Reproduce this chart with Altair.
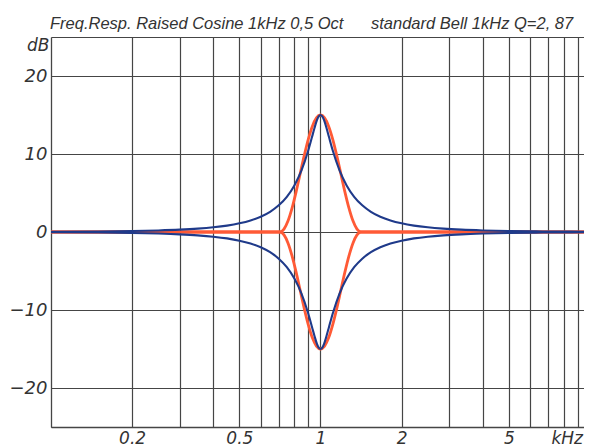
import altair as alt
import pandas as pd

# ---- data (frequency in kHz, gain in dB) ----
bell_freq = [0.1, 0.15, 0.2, 0.25, 0.3, 0.35, 0.4, 0.45, 0.5, 0.55, 0.6, 0.65, 0.7, 0.75,
             0.8, 0.85, 0.9, 0.93, 0.95, 0.97, 0.985, 1.0, 1.0152, 1.0309, 1.0526, 1.0753,
             1.1111, 1.1765, 1.25, 1.3333, 1.4286, 1.5385, 1.6667, 1.8182, 2.0, 2.2222,
             2.5, 2.8571, 3.3333, 4.0, 5.0, 6.6667, 10.0]
bell_boost = [0.03, 0.07, 0.12, 0.20, 0.30, 0.43, 0.60, 0.82, 1.11, 1.48, 1.96, 2.59, 3.42,
              4.51, 5.97, 7.89, 10.41, 12.17, 13.34, 14.34, 14.83, 15.0, 14.83, 14.34, 13.34,
              12.17, 10.41, 7.89, 5.97, 4.51, 3.42, 2.59, 1.96, 1.48, 1.11, 0.82, 0.60, 0.43,
              0.30, 0.20, 0.12, 0.07, 0.03]
bell_cut = [-0.03, -0.07, -0.12, -0.20, -0.30, -0.43, -0.60, -0.82, -1.11, -1.48, -1.96,
            -2.59, -3.42, -4.51, -5.97, -7.89, -10.41, -12.17, -13.34, -14.34, -14.83, -15.0,
            -14.83, -14.34, -13.34, -12.17, -10.41, -7.89, -5.97, -4.51, -3.42, -2.59, -1.96,
            -1.48, -1.11, -0.82, -0.60, -0.43, -0.30, -0.20, -0.12, -0.07, -0.03]

cos_freq = [0.1, 0.7071, 0.7320, 0.7579, 0.7846, 0.8123, 0.8409, 0.8706, 0.9013, 0.9330,
            0.9659, 1.0, 1.0353, 1.0718, 1.1096, 1.1487, 1.1892, 1.2311, 1.2746, 1.3195,
            1.3660, 1.4142, 10.0]
cos_boost = [0, 0, 0.37, 1.43, 3.09, 5.18, 7.5, 9.82, 11.91, 13.57, 14.63, 15.0, 14.63,
             13.57, 11.91, 9.82, 7.5, 5.18, 3.09, 1.43, 0.37, 0, 0]
cos_cut = [0, 0, -0.37, -1.43, -3.09, -5.18, -7.5, -9.82, -11.91, -13.57, -14.63, -15.0,
           -14.63, -13.57, -11.91, -9.82, -7.5, -5.18, -3.09, -1.43, -0.37, 0, 0]

grid_freqs = [0.2, 0.3, 0.4, 0.5, 0.6, 0.7, 0.8, 0.9, 1, 2, 3, 4, 5, 6, 7, 8, 9, 8.2]
y_ticks = [-25, -20, -10, 0, 10, 20, 25]

title_left = "Freq.Resp. Raised Cosine 1kHz 0,5 Oct"
title_right = "standard Bell 1kHz Q=2, 87"

rows = []
for f, b, c in zip(bell_freq, bell_boost, bell_cut):
    rows.append({"f": f, "db": b, "curve": "bell_boost", "kind": "bell"})
    rows.append({"f": f, "db": c, "curve": "bell_cut", "kind": "bell"})
for f, b, c in zip(cos_freq, cos_boost, cos_cut):
    rows.append({"f": f, "db": b, "curve": "cos_boost", "kind": "cos"})
    rows.append({"f": f, "db": c, "curve": "cos_cut", "kind": "cos"})
df = pd.DataFrame(rows)

FONT_LBL = "DejaVu Sans"
TXT = "#333333"
GRID = "#454545"

x_enc = alt.X(
    "f:Q",
    scale=alt.Scale(type="log", domain=[0.1, 10], nice=False),
    axis=alt.Axis(
        values=grid_freqs, format="~g",
        labelExpr="indexof([0.2,0.5,1,2,5], datum.value) >= 0 ? datum.label : "
                  "((datum.value > 8.1 && datum.value < 8.3) ? 'kHz' : '')",
        grid=True, gridColor=GRID, gridWidth=1.2,
        gridOpacity={"condition": {"test": "datum.value > 8.1 && datum.value < 8.3", "value": 0}, "value": 1},
        ticks=False, domain=True, domainColor=GRID, domainWidth=1.3,
        labelFont=FONT_LBL, labelFontStyle="italic", labelFontSize=17, labelColor=TXT,
        labelPadding=3, labelOverlap=False, labelFlush=False, labelBound=False,
        title=None,
    ),
)
y_enc = alt.Y(
    "db:Q",
    scale=alt.Scale(domain=[-25, 25], nice=False),
    axis=alt.Axis(
        values=y_ticks,
        labelExpr="abs(datum.value) == 25 ? '' : datum.label",
        grid=True, gridColor=GRID, gridWidth=1.2,
        ticks=False, domain=True, domainColor=GRID, domainWidth=1.3,
        labelFont=FONT_LBL, labelFontStyle="italic", labelFontSize=18, labelColor=TXT,
        labelPadding=4, labelOverlap=False,
        title="dB", titleAngle=0, titleX=-2, titleY=0, titleAlign="right",
        titleBaseline="top", titleFont=FONT_LBL, titleFontStyle="italic",
        titleFontWeight="normal", titleFontSize=17, titleColor=TXT,
    ),
)

base = alt.Chart(df)
orange = base.transform_filter("datum.kind == 'cos'").mark_line(
    color="#ff5a36", strokeWidth=2.8, interpolate="monotone"
).encode(x=x_enc, y=y_enc, detail="curve:N")
blue = base.transform_filter("datum.kind == 'bell'").mark_line(
    color="#1f3a8a", strokeWidth=2.1, interpolate="monotone"
).encode(x=x_enc, y=y_enc, detail="curve:N")

title_text = title_left + "\u00a0" * 6 + title_right

chart = alt.layer(orange, blue).properties(
    width=539, height=390,
    autosize=alt.AutoSizeParams(type="none"),
    padding={"left": 43, "top": 29, "right": -6, "bottom": 20},
    title=alt.TitleParams(
        title_text, anchor="start", frame="group", offset=3, dx=-1, dy=7,
        font="Liberation Sans", fontStyle="italic", fontWeight="normal",
        fontSize=16.5, color=TXT,
    ),
).configure_view(stroke=None).configure(background="white")

chart.save("out.html", embed_options={"renderer": "svg", "actions": False})
